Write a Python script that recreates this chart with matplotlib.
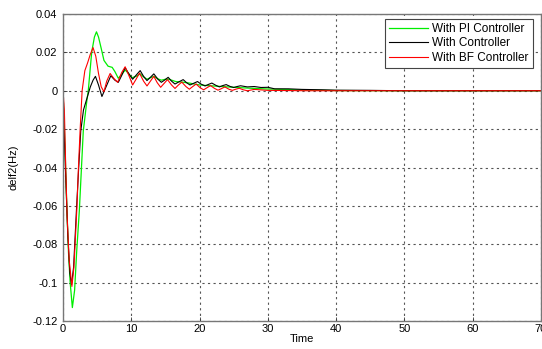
import matplotlib
matplotlib.use("Agg")
import matplotlib.pyplot as plt

# With PI Controller (green)
t_pi = [0, 0.3, 0.55, 0.8, 1.05, 1.37, 1.7, 2.0, 2.4, 2.97, 3.5, 3.7, 4.2, 4.6, 4.9, 5.2, 5.6,
        6.0, 6.6, 7.2, 7.6, 8.1, 8.6, 9.1, 9.6, 10.1, 10.7, 11.3, 11.8, 12.3, 12.8, 13.3, 13.9,
        14.4, 15.0, 15.5, 16.5, 17.5, 18.5, 20.0, 22.0, 25.0, 28.0, 30.0, 35.0, 40.0, 50.0, 60.0, 70.0]
v_pi = [0, -0.03, -0.06, -0.084, -0.1, -0.113, -0.104, -0.084, -0.062, -0.021, -0.005, 0.0, 0.02,
        0.028, 0.0307, 0.028, 0.022, 0.0158, 0.0128, 0.0122, 0.01, 0.0065, 0.0085, 0.0108, 0.009,
        0.0068, 0.0075, 0.0088, 0.0072, 0.006, 0.0068, 0.0075, 0.0062, 0.0055, 0.006, 0.006, 0.0048,
        0.0045, 0.004, 0.003, 0.0025, 0.0018, 0.0012, 0.0009, 0.0004, 0.0001, 0.0, 0.0, 0.0]

# With Controller (black)
t_c = [0, 0.1, 0.4, 0.7, 1.0, 1.25, 1.55, 2.0, 2.3, 2.6, 3.0, 3.5, 4.0, 4.4, 4.75, 5.2, 5.7, 6.3,
       7.0, 7.6, 8.1, 8.6, 9.1, 9.7, 10.2, 10.8, 11.3, 11.8, 12.3, 12.8, 13.3, 13.9, 14.4, 14.9,
       15.4, 15.9, 16.4, 17.0, 17.6, 18.1, 18.6, 19.2, 19.7, 20.2, 20.8, 21.3, 21.8, 22.4, 22.9,
       23.4, 23.9, 24.5, 25.0, 25.5, 26.0, 27.0, 28.0, 29.0, 30.0, 31.0, 33.0, 35.0, 38.0, 40.0,
       45.0, 50.0, 60.0, 70.0]
v_c = [0, -0.015, -0.045, -0.075, -0.095, -0.101, -0.092, -0.06, -0.04, -0.021, -0.01, -0.004,
       0.002, 0.0055, 0.0075, 0.003, -0.003, 0.002, 0.0078, 0.0055, 0.0044, 0.008, 0.012, 0.0085,
       0.006, 0.0085, 0.0105, 0.0075, 0.0053, 0.007, 0.0088, 0.006, 0.0044, 0.0056, 0.007, 0.005,
       0.0035, 0.0047, 0.0058, 0.0042, 0.003, 0.004, 0.0048, 0.0035, 0.0025, 0.0033, 0.004, 0.0028,
       0.002, 0.0027, 0.0032, 0.0022, 0.0017, 0.0022, 0.0026, 0.002, 0.0022, 0.0017, 0.0018, 0.001,
       0.001, 0.0007, 0.0005, 0.0003, 0.0002, 0.0, 0.0, 0.0]

# With BF Controller (red)
t_bf = [0, 0.2, 0.4, 0.6, 0.9, 1.3, 1.6, 2.05, 2.25, 2.5, 2.8, 3.2, 3.6, 4.0, 4.4, 4.8, 5.2, 5.6,
        6.0, 6.4, 6.9, 7.5, 8.0, 8.6, 9.1, 9.7, 10.2, 10.7, 11.2, 11.8, 12.3, 12.8, 13.3, 13.8,
        14.3, 14.8, 15.3, 15.9, 16.4, 16.9, 17.4, 18.0, 18.5, 19.0, 19.5, 20.1, 20.6, 21.1, 21.6,
        22.2, 22.7, 23.2, 23.7, 24.3, 24.8, 25.3, 25.8, 26.4, 27.0, 28.0, 30.0, 33.0, 36.0, 40.0,
        50.0, 60.0, 70.0]
v_bf = [0, -0.01, -0.04, -0.065, -0.088, -0.102, -0.092, -0.06, -0.041, -0.021, 0.0, 0.0105,
        0.0145, 0.019, 0.0225, 0.018, 0.009, 0.002, -0.0005, 0.005, 0.009, 0.0062, 0.0044, 0.0095,
        0.0125, 0.0075, 0.003, 0.006, 0.0092, 0.005, 0.0025, 0.005, 0.0075, 0.0042, 0.0018, 0.0038,
        0.0058, 0.003, 0.0012, 0.003, 0.0045, 0.0022, 0.0008, 0.0022, 0.0035, 0.0015, 0.0005, 0.0016,
        0.0027, 0.0012, 0.0003, 0.0011, 0.002, 0.0008, 0.0002, 0.0008, 0.0013, 0.0005, 0.0, 0.0007,
        0.0002, 0.0001, 0.0, 0.0, 0.0, 0.0, 0.0]

labels = ["With PI Controller", "With Controller", "With BF Controller"]
x_ticks = [0, 10, 20, 30, 40, 50, 60, 70]
y_ticks = [0.04, 0.02, 0, -0.02, -0.04, -0.06, -0.08, -0.1, -0.12]
y_ticklabels = ["0.04", "0.02", "0", "-0.02", "-0.04", "-0.06", "-0.08", "-0.1", "-0.12"]

plt.rcParams['font.family'] = ['Liberation Sans', 'DejaVu Sans']

fig = plt.figure(figsize=(5.42, 3.49), dpi=100)
ax = fig.add_axes([63/542, 1 - 321/349, 478/542, 307/349])

ax.plot(t_pi, v_pi, color='#00ee00', lw=0.9, label=labels[0])
ax.plot(t_c, v_c, color='#000000', lw=0.8, label=labels[1])
ax.plot(t_bf, v_bf, color='#ff0000', lw=0.8, label=labels[2])

ax.set_xlim(0, 70)
ax.set_ylim(-0.12, 0.04)
ax.set_xticks(x_ticks)
ax.set_xticklabels([str(v) for v in x_ticks], fontsize=8)
ax.set_yticks(y_ticks)
ax.set_yticklabels(y_ticklabels, fontsize=8)
ax.tick_params(direction='in', length=3, width=0.6, colors='#333333')
ax.tick_params(axis='x', pad=2)
ax.tick_params(axis='y', pad=4)
for lbl in ax.get_xticklabels() + ax.get_yticklabels():
    lbl.set_color('black')

ax.grid(True, color='#555555', linestyle=(0, (2, 3)), linewidth=0.8)
for s in ax.spines.values():
    s.set_color('#777777')
    s.set_linewidth(1.0)

ax.set_xlabel("Time", fontsize=8, labelpad=0)
ax.set_ylabel("delf2(Hz)", fontsize=8, labelpad=10)

leg = ax.legend(loc='upper right', bbox_to_anchor=(0.983, 0.984), borderaxespad=0,
                fontsize=8.5, fancybox=False, framealpha=1, edgecolor='#444444',
                handlelength=3.3, labelspacing=0.2, borderpad=0.35, handletextpad=0.4)
leg.get_frame().set_linewidth(0.8)

fig.savefig("out.png", dpi=100)
